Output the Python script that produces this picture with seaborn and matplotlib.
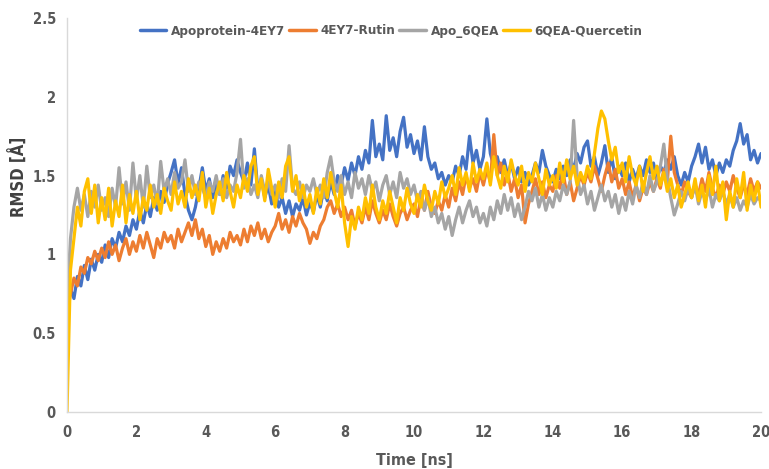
import numpy as np
import pandas as pd
import matplotlib
matplotlib.use("Agg")
import matplotlib.pyplot as plt
import seaborn as sns

# Simulation time grid (ns), sampled every 0.1 ns
time_ns = np.round(np.arange(0, 20.05, 0.1), 1)

series_names = ["Apoprotein-4EY7", "4EY7-Rutin", "Apo_6QEA", "6QEA-Quercetin"]
series_colors = ["#4472C4", "#ED7D31", "#A5A5A5", "#FFC000"]

apo_4ey7 = [
    0.65, 0.78, 0.72, 0.86, 0.80, 0.93, 0.84, 0.97, 0.90, 1.00,
    0.95, 1.06, 0.98, 1.10, 1.04, 1.14, 1.08, 1.18, 1.12, 1.22,
    1.16, 1.28, 1.20, 1.32, 1.24, 1.36, 1.28, 1.40, 1.33, 1.45,
    1.52, 1.60, 1.45, 1.55, 1.38, 1.28, 1.22, 1.30, 1.42, 1.55,
    1.40, 1.48, 1.36, 1.45, 1.38, 1.50, 1.42, 1.56, 1.50, 1.60,
    1.52, 1.46, 1.58, 1.44, 1.67, 1.40, 1.48, 1.36, 1.44, 1.32,
    1.40, 1.30, 1.36, 1.26, 1.34, 1.24, 1.32, 1.28, 1.36, 1.25,
    1.33, 1.27, 1.38, 1.30, 1.42, 1.34, 1.46, 1.38, 1.50, 1.44,
    1.55, 1.47, 1.58, 1.50, 1.62, 1.54, 1.66, 1.58, 1.85, 1.62,
    1.70, 1.60, 1.88, 1.66, 1.74, 1.62, 1.78, 1.87, 1.68, 1.76,
    1.64, 1.72, 1.60, 1.81, 1.62, 1.54, 1.58, 1.48, 1.52, 1.44,
    1.50, 1.46, 1.56, 1.50, 1.62, 1.54, 1.75, 1.58, 1.66, 1.54,
    1.62, 1.86, 1.64, 1.56, 1.62, 1.52, 1.60, 1.50, 1.58, 1.48,
    1.55, 1.46, 1.52, 1.44, 1.50, 1.58, 1.52, 1.66, 1.56, 1.50,
    1.46, 1.54, 1.48, 1.56, 1.50, 1.60, 1.54, 1.64, 1.58, 1.68,
    1.72, 1.56, 1.62, 1.50, 1.58, 1.69, 1.52, 1.62, 1.48, 1.56,
    1.50, 1.58, 1.46, 1.54, 1.48, 1.56, 1.50, 1.60, 1.52, 1.58,
    1.48, 1.56, 1.52, 1.60, 1.54, 1.62, 1.50, 1.44, 1.52, 1.46,
    1.56, 1.62, 1.70, 1.58, 1.68, 1.54, 1.60, 1.50, 1.58, 1.52,
    1.60, 1.56, 1.66, 1.72, 1.83, 1.70, 1.76, 1.60, 1.66, 1.58,
    1.64,
]

rutin_4ey7 = [
    0.62, 0.75, 0.85, 0.80, 0.92, 0.88, 0.98, 0.94, 1.02, 0.96,
    1.04, 0.98, 1.08, 1.00, 1.06, 0.96, 1.04, 1.10, 1.00, 1.08,
    1.02, 1.12, 1.04, 1.14, 1.06, 0.98, 1.10, 1.04, 1.14, 1.08,
    1.12, 1.04, 1.16, 1.08, 1.14, 1.20, 1.12, 1.22, 1.10, 1.16,
    1.05, 1.12, 1.00, 1.08, 1.02, 1.10, 1.04, 1.14, 1.08, 1.12,
    1.06, 1.16, 1.08, 1.18, 1.12, 1.20, 1.10, 1.16, 1.08, 1.14,
    1.18, 1.26, 1.16, 1.22, 1.14, 1.24, 1.18, 1.26, 1.20, 1.16,
    1.07, 1.14, 1.10, 1.18, 1.22, 1.30, 1.34, 1.26, 1.32, 1.24,
    1.30, 1.22, 1.28, 1.18, 1.26, 1.20, 1.30, 1.22, 1.34, 1.26,
    1.20, 1.28, 1.22, 1.32, 1.24, 1.18, 1.26, 1.30, 1.22, 1.28,
    1.32, 1.24, 1.36, 1.28, 1.40, 1.30, 1.26, 1.34, 1.28, 1.38,
    1.30, 1.42, 1.34, 1.46, 1.38, 1.50, 1.42, 1.48, 1.40, 1.52,
    1.44, 1.54, 1.46, 1.76, 1.50, 1.58, 1.44, 1.52, 1.40, 1.48,
    1.36, 1.44, 1.20, 1.32, 1.40, 1.48, 1.38, 1.46, 1.36, 1.44,
    1.40, 1.50, 1.42, 1.52, 1.38, 1.46, 1.34, 1.42, 1.50, 1.44,
    1.52, 1.46, 1.56, 1.48, 1.40, 1.50, 1.58, 1.46, 1.54, 1.42,
    1.48, 1.38, 1.46, 1.36, 1.44, 1.34, 1.42, 1.38, 1.46, 1.40,
    1.48, 1.42, 1.54, 1.46, 1.75, 1.52, 1.44, 1.38, 1.46, 1.40,
    1.36, 1.44, 1.38, 1.48, 1.40, 1.52, 1.42, 1.36, 1.44, 1.38,
    1.46, 1.40, 1.50, 1.42, 1.36, 1.44, 1.38, 1.48, 1.40, 1.46,
    1.42,
]

apo_6qea = [
    0.70, 1.10, 1.30, 1.42, 1.28, 1.38, 1.24, 1.40, 1.30, 1.44,
    1.28, 1.36, 1.24, 1.42, 1.30, 1.55, 1.32, 1.46, 1.28, 1.58,
    1.34, 1.50, 1.30, 1.56, 1.36, 1.44, 1.32, 1.59, 1.40, 1.48,
    1.38, 1.52, 1.42, 1.46, 1.60, 1.40, 1.50, 1.38, 1.46, 1.42,
    1.36, 1.46, 1.40, 1.50, 1.38, 1.48, 1.36, 1.44, 1.40, 1.52,
    1.73, 1.42, 1.48, 1.38, 1.44, 1.36, 1.50, 1.40, 1.46, 1.38,
    1.44, 1.36, 1.48, 1.40, 1.69, 1.42, 1.38, 1.46, 1.36, 1.44,
    1.40, 1.48, 1.38, 1.44, 1.36, 1.52, 1.62, 1.46, 1.40, 1.50,
    1.38, 1.46, 1.36, 1.52, 1.42, 1.48, 1.38, 1.50, 1.40, 1.46,
    1.34, 1.44, 1.50, 1.38, 1.46, 1.36, 1.52, 1.42, 1.48, 1.38,
    1.44, 1.34, 1.40, 1.28, 1.36, 1.24, 1.30, 1.20, 1.26, 1.16,
    1.24, 1.12, 1.22, 1.30, 1.20, 1.28, 1.34, 1.24, 1.30, 1.20,
    1.26, 1.18, 1.30, 1.22, 1.34, 1.26, 1.38, 1.28, 1.36, 1.24,
    1.32, 1.22, 1.30, 1.40, 1.34, 1.42, 1.30, 1.38, 1.28, 1.36,
    1.30, 1.40, 1.34, 1.44, 1.38, 1.46, 1.85, 1.50, 1.38, 1.44,
    1.32, 1.40, 1.28, 1.36, 1.44, 1.34, 1.40, 1.30, 1.38, 1.26,
    1.36, 1.28, 1.40, 1.32, 1.44, 1.36, 1.46, 1.38, 1.50, 1.40,
    1.46, 1.56, 1.70, 1.48, 1.36, 1.25, 1.32, 1.40, 1.34, 1.42,
    1.36, 1.44, 1.32, 1.40, 1.34, 1.42, 1.30, 1.38, 1.34, 1.40,
    1.32, 1.38, 1.30, 1.36, 1.28, 1.34, 1.30, 1.38, 1.32, 1.36,
    1.34,
]

quercetin_6qea = [
    0.00, 0.90, 1.10, 1.30, 1.18, 1.40, 1.48, 1.26, 1.44, 1.20,
    1.36, 1.22, 1.42, 1.18, 1.34, 1.24, 1.44, 1.20, 1.38, 1.26,
    1.40, 1.22, 1.36, 1.28, 1.44, 1.30, 1.38, 1.26, 1.42, 1.34,
    1.28, 1.46, 1.32, 1.40, 1.30, 1.48, 1.36, 1.44, 1.34, 1.52,
    1.30, 1.42, 1.26, 1.38, 1.46, 1.34, 1.52, 1.40, 1.30, 1.44,
    1.36, 1.50, 1.40, 1.56, 1.62, 1.38, 1.48, 1.34, 1.54, 1.42,
    1.30, 1.46, 1.36, 1.56, 1.62, 1.40, 1.50, 1.34, 1.44, 1.30,
    1.38, 1.26, 1.42, 1.32, 1.48, 1.36, 1.52, 1.40, 1.30, 1.44,
    1.20, 1.05, 1.24, 1.16, 1.30, 1.22, 1.36, 1.26, 1.44, 1.30,
    1.22, 1.34, 1.26, 1.40, 1.30, 1.20, 1.36, 1.28, 1.42, 1.32,
    1.26, 1.38, 1.30, 1.44, 1.34, 1.28, 1.40, 1.32, 1.46, 1.36,
    1.42, 1.50, 1.38, 1.55, 1.44, 1.52, 1.40, 1.58, 1.46, 1.54,
    1.48, 1.58, 1.44, 1.62, 1.50, 1.42, 1.56, 1.46, 1.60, 1.50,
    1.44, 1.56, 1.40, 1.52, 1.46, 1.58, 1.48, 1.38, 1.54, 1.44,
    1.50, 1.42, 1.58, 1.46, 1.60, 1.48, 1.56, 1.44, 1.52, 1.46,
    1.56, 1.48, 1.64, 1.80, 1.91, 1.86, 1.72, 1.60, 1.68, 1.52,
    1.58, 1.46, 1.62, 1.50, 1.44, 1.56, 1.40, 1.52, 1.62, 1.48,
    1.56, 1.44, 1.52, 1.40, 1.48, 1.36, 1.44, 1.30, 1.38, 1.46,
    1.36, 1.48, 1.34, 1.44, 1.30, 1.50, 1.38, 1.56, 1.34, 1.46,
    1.22, 1.40, 1.30, 1.48, 1.36, 1.52, 1.28, 1.44, 1.34, 1.46,
    1.30,
]

x_ticks = [0, 2, 4, 6, 8, 10, 12, 14, 16, 18, 20]
y_ticks = [0, 0.5, 1, 1.5, 2, 2.5]
y_tick_labels = ["0", "0.5", "1", "1.5", "2", "2.5"]

df = pd.DataFrame({
    "time": np.tile(time_ns, 4),
    "rmsd": np.concatenate([apo_4ey7, rutin_4ey7, apo_6qea, quercetin_6qea]),
    "system": np.repeat(series_names, len(time_ns)),
})

sns.set_style("white")
plt.rcParams["font.family"] = ["DejaVu Sans"]
plt.rcParams["font.stretch"] = "condensed"
plt.rcParams["font.weight"] = "bold"

fig = plt.figure(figsize=(7.69, 4.69), dpi=100)
ax = fig.add_axes([67 / 769, 57 / 469, 694 / 769, 394 / 469])

sns.lineplot(
    data=df, x="time", y="rmsd", hue="system", hue_order=series_names,
    palette=series_colors, linewidth=2.3, ax=ax, legend=False,
    estimator=None, sort=False,
)

ax.set_xlim(0, 20)
ax.set_ylim(0, 2.5)
ax.set_xticks(x_ticks)
ax.set_yticks(y_ticks)
ax.set_yticklabels(y_tick_labels)
ax.tick_params(axis="both", length=0, labelsize=10.5, labelcolor="#595959")
ax.tick_params(axis="x", pad=9)
ax.tick_params(axis="y", pad=8)
for lab in ax.get_xticklabels() + ax.get_yticklabels():
    lab.set_fontweight("bold")
    lab.set_fontstretch("condensed")
    lab.set_clip_on(False)

ax.set_xlabel("Time [ns]", fontsize=11.5, fontweight="bold", color="#595959", labelpad=10)
ax.set_ylabel("RMSD [Å]", fontsize=12, fontweight="bold", color="#404040")
ax.yaxis.set_label_coords(-0.055, 0.596)

for side in ["top", "right"]:
    ax.spines[side].set_visible(False)
for side in ["left", "bottom"]:
    ax.spines[side].set_color("#D9D9D9")
    ax.spines[side].set_linewidth(1.0)

handles = [plt.Line2D([0], [0], color=c, lw=2.5) for c in series_colors]
fig.legend(
    handles, series_names, loc="center", bbox_to_anchor=(391 / 769, 1 - 31 / 469),
    ncol=4, frameon=False, handlelength=2.0, handletextpad=0.35, columnspacing=0.3,
    prop={"size": 9.6, "weight": "bold", "stretch": "condensed"}, labelcolor="#595959",
)

fig.savefig("out.png", dpi=100)
